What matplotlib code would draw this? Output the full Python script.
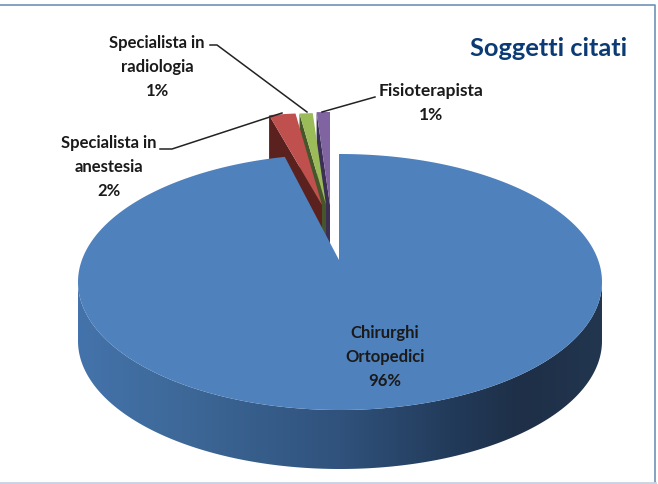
import numpy as np
import matplotlib
matplotlib.use("Agg")
import matplotlib.pyplot as plt
from matplotlib.patches import Polygon
from matplotlib.colors import LinearSegmentedColormap

labels = ["Chirurghi\nOrtopedici\n96%", "Specialista in\nanestesia\n2%",
          "Specialista in\nradiologia\n1%", "Fisioterapista\n1%"]
values = [96, 2, 1, 1]
top_colors = ["#4f81bd", "#c0504d", "#9bbb59", "#8064a2"]
side_colors = ["#30527c", "#5a211f", "#47562a", "#3c2f54"]
title = "Soggetti citati"

W, H = 658, 484
RX, RY, DEPTH = 262, 128, 59
apexes = [(339, 260), (322, 205), (326, 205), (330, 205)]
centre_offset = [(1, 22), (0, 36), (0, 36), (0, 35)]
spread = [1.0, 1.12, 1.12, 1.12]

fig = plt.figure(figsize=(W / 100, H / 100), dpi=100)
ax = fig.add_axes([0, 0, 1, 1])
ax.set_xlim(0, W)
ax.set_ylim(H, 0)
ax.axis("off")
plt.rcParams["font.family"] = ["Lato", "DejaVu Sans"]


def rim(i, theta):
    """Perspective point on the rim of slice i for pie angle theta (clockwise from top)."""
    apex, off = apexes[i], centre_offset[i]
    dx, dy = RX * np.sin(theta), -RY * np.cos(theta)
    ex, ey = -off[0], -off[1]
    a = (dx / RX) ** 2 + (dy / RY) ** 2
    b = 2 * (ex * dx / RX ** 2 + ey * dy / RY ** 2)
    c = (ex / RX) ** 2 + (ey / RY) ** 2 - 1
    t = (-b + np.sqrt(b * b - 4 * a * c)) / (2 * a)
    return np.column_stack([apex[0] + spread[i] * t * dx, apex[1] + t * dy])


fractions = np.array(values, float) / sum(values)
edges = 2 * np.pi * np.cumsum(np.r_[0, fractions])

# small exploded slices, back to front so each hides its neighbour's cut face
for z, i in enumerate([3, 2, 1]):
    first = rim(i, np.array([edges[i]]))[0]
    ax.add_patch(Polygon([first, apexes[i], (apexes[i][0], apexes[i][1] + DEPTH),
                          (first[0], first[1] + DEPTH)], closed=True,
                         fc=side_colors[i], ec="none", zorder=2 + z * 0.1))
    th = np.linspace(edges[i], edges[i + 1], 30)
    pts = np.vstack([[apexes[i]], rim(i, th)])
    ax.add_patch(Polygon(pts, closed=True, fc=top_colors[i], ec="none",
                         zorder=2.05 + z * 0.1))

# main slice wall with horizontal shading
th = np.linspace(edges[0], edges[1], 720)
rim_main = rim(0, th)
cx, cy = apexes[0][0] + centre_offset[0][0], apexes[0][1] + centre_offset[0][1]
phi = np.linspace(0, np.pi, 300)
low_x, low_y = cx + RX * np.cos(phi), cy + RY * np.sin(phi)
wall = np.vstack([np.column_stack([low_x, low_y + DEPTH]),
                  np.column_stack([low_x[::-1], low_y[::-1]])])
clip = Polygon(wall, closed=True, fc="none", ec="none", transform=ax.transData)
ax.add_patch(clip)
cmap = LinearSegmentedColormap.from_list(
    "wall", [(0, "#4473ab"), (0.2, "#3d6898"), (0.5, "#30527c"),
             (0.72, "#223a59"), (0.85, "#1e2f47"), (1, "#22364f")])
im = ax.imshow(np.linspace(0, 1, 256)[None, :], cmap=cmap, aspect="auto",
               extent=(cx - RX, cx + RX, cy + RY + DEPTH, cy), zorder=4)
im.set_clip_path(clip)
ax.set_xlim(0, W)
ax.set_ylim(H, 0)

# main slice top
ax.add_patch(Polygon(np.vstack([[apexes[0]], rim_main]), closed=True,
                     fc=top_colors[0], ec="none", zorder=5))

# leader lines
leaders = [([160, 172, 282], [149, 149, 113]),
           ([210, 217, 307], [45, 45, 112]),
           ([375, 322], [97, 112])]
for xs, ys in leaders:
    ax.plot(xs, ys, color="#222222", lw=1.1, zorder=6)

txt = dict(fontweight="bold", color="#1a1a1a", fontsize=12, ha="center",
           va="center", linespacing=1.58, zorder=7)
ax.text(385, 357, labels[0], **txt)
ax.text(108.5, 167, labels[1], **txt)
ax.text(157, 67, labels[2], **txt)
ax.text(431, 103, labels[3], fontsize=12.5, **{k: v for k, v in txt.items() if k != "fontsize"})
ax.text(548.5, 48, title, color="#0b3b75", fontweight="bold", fontsize=18.3,
        ha="center", va="center", zorder=7)

# page frame
ax.plot([0, 655, 655], [5, 5, 484], color="#6f93b8", lw=1.2, zorder=8, clip_on=False)
ax.plot([0, 655], [483, 483], color="#c9d3e2", lw=2, zorder=8)

fig.savefig("out.png", dpi=100)
